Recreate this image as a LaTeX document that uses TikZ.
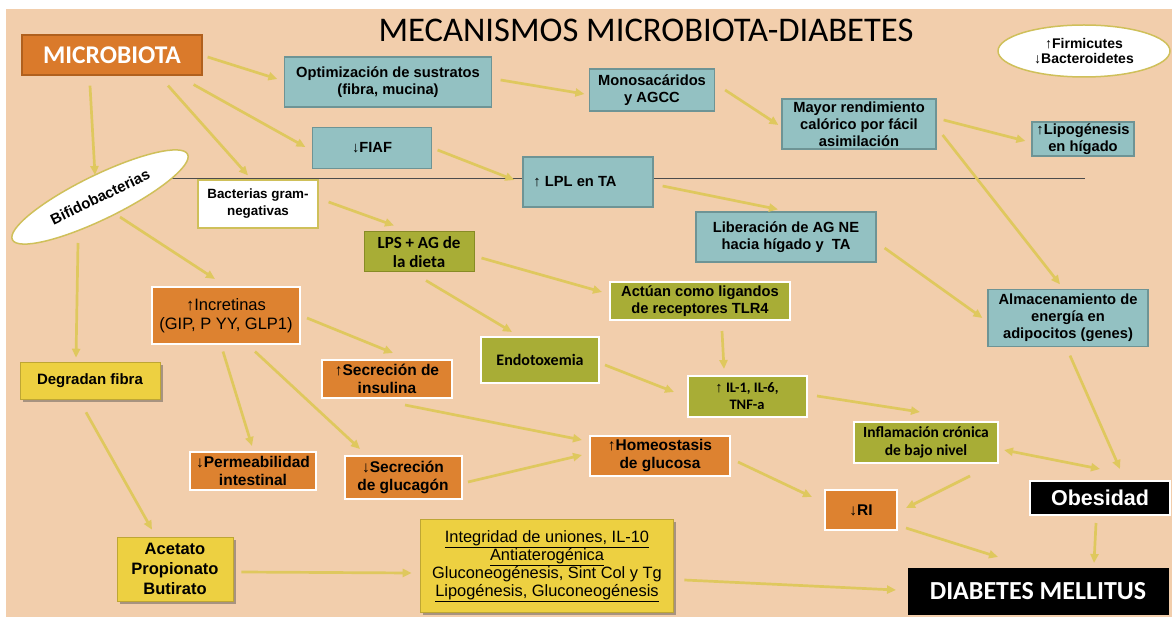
\documentclass[tikz,border=0pt]{standalone}
\usepackage{fontspec}
\setmainfont{Liberation Sans}
\newfontfamily\carl{Carlito}
\newfontfamily\arrfont{Liberation Sans}
\usetikzlibrary{arrows.meta,calc,shadows,shapes.geometric}
\definecolor{bgpeach}{HTML}{F2CEAC}
\definecolor{tealf}{HTML}{93C1C2}
\definecolor{tealb}{HTML}{6E9495}
\definecolor{olivef}{HTML}{A8AD36}
\definecolor{oliveb}{HTML}{878B25}
\definecolor{orangef}{HTML}{DD8230}
\definecolor{microf}{HTML}{DA7A2B}
\definecolor{microb}{HTML}{B0601E}
\definecolor{yelf}{HTML}{EDD041}
\definecolor{arrowc}{HTML}{DFC85E}
\definecolor{ellb}{HTML}{CFC05A}
\newcommand\ua{{\arrfont\mdseries ↑}}
\newcommand\da{{\arrfont\mdseries ↓}}
\tikzset{
  box/.style={draw, align=center, inner sep=0pt, text=black,
    font=\bfseries\fontsize{14.7}{17}\selectfont},
  tealbox/.style={box, fill=tealf, draw=tealb, line width=1.2pt},
  olivebox/.style={box, fill=olivef, draw=white, line width=2pt,
    font=\carl\bfseries\fontsize{16}{19}\selectfont},
  orangebox/.style={box, fill=orangef, draw=white, line width=2pt,
    font=\bfseries\fontsize{15.5}{18}\selectfont},
  yelbox/.style={box, fill=yelf, draw=yelf!80!black, line width=0.6pt,
    drop shadow={shadow xshift=2.5pt, shadow yshift=-2.5pt, opacity=0.45, fill=black!70}},
  blackbox/.style={box, fill=black, draw=white, line width=2pt, text=white},
  sz/.style 2 args={minimum width=#1, minimum height=#2},
  arr/.style={draw=arrowc, line width=2.7pt, -{Triangle[length=9pt,width=8pt]}},
  darr/.style={draw=arrowc, line width=2.7pt, {Triangle[length=9pt,width=8pt]}-{Triangle[length=9pt,width=8pt]}},
}
\begin{document}
\begin{tikzpicture}[x=1pt,y=-1pt]
\useasboundingbox (0,0) rectangle (1172,617);
\fill[white] (0,0) rectangle (1172,617);
\fill[bgpeach] (6,9) rectangle (1172,617);
\draw[black!70, line width=0.6pt] (170,178) -- (1085,178);

\node[font=\carl\fontsize{34.6}{36}\selectfont] (title) at (646,30) {MECANISMOS MICROBIOTA-DIABETES};

\node[box, sz={180}{40}, fill=microf, draw=microb, line width=1.2pt, text=white,
  font=\carl\bfseries\fontsize{25.5}{28}\selectfont] (micro) at (112,55) {MICROBIOTA};

\node[ellipse, draw=ellb, fill=white, line width=1.5pt, sz={172}{52}, inner sep=0pt, align=center,
  font=\bfseries\fontsize{14}{15.5}\selectfont] (firm) at (1084,51) {\ua Firmicutes\\\da Bacteroidetes};

\node[tealbox, sz={207}{50}] (optim) at (388,82) {Optimización de sustratos\\(fibra, mucina)};
\node[tealbox, sz={125}{42}] (mono) at (652,90) {Monosacáridos\\y AGCC};
\node[tealbox, sz={154}{50}] (mayor) at (859,124) {Mayor rendimiento\\calórico por fácil\\asimilación};
\node[tealbox, sz={102}{34}] (lipo) at (1083,139) {\ua Lipogénesis\\en hígado};
\node[tealbox, sz={119}{41}] (fiaf) at (372,148) {\da FIAF};
\node[tealbox, sz={130}{50}] (lpl) at (588,182) {\ua\ LPL en TA\hspace*{26pt}};
\node[tealbox, sz={180}{50}] (liber) at (786,237) {Liberación de AG NE\\hacia hígado y\ \ TA};
\node[tealbox, sz={160}{57}] (almac) at (1068,318) {Almacenamiento de\\energía en\\adipocitos (genes)};

\node[ellipse, draw=ellb, fill=white, line width=1.5pt, sz={195}{44}, inner sep=0pt, rotate=26,
  font=\bfseries\fontsize{15}{16}\selectfont] (bifido) at (100,197) {Bifidobacterias};

\node[box, sz={120}{48}, fill=white, draw=ellb, line width=1.2pt,
  font=\bfseries\fontsize{13.4}{17}\selectfont] (gram) at (258,204) {Bacterias gram-\\negativas};
\node[box, sz={110}{40}, fill=olivef, draw=oliveb, line width=1pt,
  font=\carl\bfseries\fontsize{17}{19}\selectfont] (lps) at (419,252) {LPS + AG de\\la dieta};
\node[olivebox, sz={180}{38}, font=\bfseries\fontsize{14.7}{17}\selectfont] (actuan) at (700,301) {Actúan como ligandos\\de receptores TLR4};
\node[olivebox, sz={118}{45}] (endo) at (540,360) {Endotoxemia};
\node[olivebox, sz={119}{41}, font=\carl\bfseries\fontsize{14.5}{17}\selectfont] (il) at (747,396) {\ua\ IL-1, IL-6,\\TNF-a};
\node[olivebox, sz={144}{41}, font=\carl\bfseries\fontsize{15.5}{18}\selectfont] (infl) at (926,442) {Inflamación crónica\\de bajo nivel};

\node[orangebox, sz={148}{57}, font=\mdseries\fontsize{16.5}{19}\selectfont] (incret) at (226,316) {\ua Incretinas\\(GIP, P YY, GLP1)};
\node[orangebox, sz={130}{38}] (secins) at (387,379) {\ua Secreción de\\insulina};
\node[orangebox, sz={140}{40}] (homeo) at (660,456) {\ua Homeostasis\\de glucosa};
\node[orangebox, sz={126}{38}] (perm) at (253,471) {\da Permeabilidad\\intestinal};
\node[orangebox, sz={117}{43}] (secglu) at (403,477) {\da Secreción\\de glucagón};
\node[orangebox, sz={72}{40}] (ri) at (861,510) {\da RI};

\node[yelbox, sz={140}{37}, font=\bfseries\fontsize{15}{17}\selectfont] (degrad) at (90,381) {Degradan fibra};
\node[yelbox, sz={116}{64}, font=\bfseries\fontsize{16.5}{20}\selectfont] (acet) at (175,569) {Acetato\\Propionato\\Butirato};
\node[yelbox, sz={253}{93}, font=\mdseries\fontsize{16.4}{18}\selectfont] (integ) at (547,566)
  {\underline{Integridad de uniones, IL-10}\\\underline{Antiaterogénica}\\Gluconeogénesis, Sint Col y Tg\\\underline{Lipogénesis, Gluconeogénesis}};

\node[blackbox, sz={140}{34}, font=\bfseries\fontsize{21.5}{24}\selectfont] (obes) at (1100,498) {Obesidad};
\node[blackbox, sz={260}{46}, line width=0pt, draw=black, font=\carl\bfseries\fontsize{26}{28}\selectfont] (dm) at (1038,591) {DIABETES MELLITUS};

% connectors
\draw[arr] ($(micro.east)+(5,2)$) -- ($(optim.west)+(-6.5,-3)$);
\draw[arr] ($(micro.south east)+(-9,9)$) -- ($(fiaf.west)+(-6.5,-1)$);
\draw[arr] ($(micro.south)+(56,10)$) -- ($(gram.north)+(-10,-4)$);
\draw[arr] ($(micro.south)+(-22,10)$) -- ($(bifido.center)+(-5,-22)$);
\draw[arr] ($(optim.east)+(8.5,-2)$) -- ($(mono.west)+(-4.5,4)$);
\draw[arr] ($(mono.east)+(10,0)$) -- ($(mayor.west)+(-3,1)$);
\draw[arr] ($(mayor.east)+(7,-4)$) -- ($(lipo.west)+(-6,2)$);
\draw[arr] ($(mayor.east)+(6,11)$) -- ($(almac.north)+(-8,-4.5)$);
\draw[arr] ($(fiaf.east)+(5.5,2)$) -- ($(lpl.west)+(-8,-2)$);
\draw[arr] ($(lpl.east)+(9,4)$) -- ($(liber.north)+(-8,-2)$);
\draw[arr] ($(liber.east)+(8,11)$) -- ($(almac.west)+(-5,0)$);
\draw[arr] ($(gram.east)+(10,-2)$) -- ($(lps.north)+(-25,-6)$);
\draw[arr] ($(lps.east)+(7,6)$) -- ($(actuan.west)+(-7,-9)$);
\draw[arr] ($(lps.south)+(7,8)$) -- ($(endo.north)+(-28,-4.5)$);
\draw[arr] ($(actuan.south)+(22,10)$) -- ($(il.north)+(-23,-5.5)$);
\draw[arr] ($(endo.east)+(5,5)$) -- ($(il.west)+(-12.5,-4)$);
\draw[arr] ($(il.east)+(9.5,0)$) -- ($(infl.north)+(-6,-8.5)$);
\draw[arr] ($(bifido.center)+(20,20)$) -- ($(incret.north)+(-11,-7.5)$);
\draw[arr] ($(bifido.center)+(-22,46)$) -- ($(degrad.north)+(-14,-4.5)$);
\draw[arr] ($(incret.east)+(6,2)$) -- ($(secins.north)+(6,-6)$);
\draw[arr] ($(incret.south)+(-3,6)$) -- ($(perm.north)+(-1,-5)$);
\draw[arr] ($(incret.south)+(29,6)$) -- ($(secglu.north)+(-43,-5.5)$);
\draw[arr] ($(secins.south)+(18,6)$) -- ($(homeo.west)+(-7,-16)$);
\draw[arr] ($(secglu.east)+(5.5,5)$) -- ($(homeo.west)+(-7,-1)$);
\draw[arr] ($(degrad.south)+(-4,12.5)$) -- ($(acet.north)+(-23,-7)$);
\draw[arr] ($(acet.east)+(8,3)$) -- ($(integ.west)+(-8.5,7)$);
\draw[arr] ($(integ.east)+(10.5,14)$) -- ($(dm.west)+(-12,-1)$);
\draw[arr] ($(homeo.east)+(7,6)$) -- ($(ri.west)+(-12,-13)$);
\draw[arr] ($(infl.south)+(44,12.5)$) -- ($(ri.east)+(8,-2)$);
\draw[darr] ($(infl.east)+(5,8)$) -- ($(obes.north)+(0,-11)$);
\draw[arr] ($(almac.south)+(2,8.5)$) -- ($(obes.north)+(20,-11)$);
\draw[arr] ($(obes.south)+(-4,7)$) -- ($(dm.north)+(56,-5)$);
\draw[arr] ($(ri.east)+(8,18)$) -- ($(dm.north)+(-40,-11)$);
\end{tikzpicture}
\end{document}
